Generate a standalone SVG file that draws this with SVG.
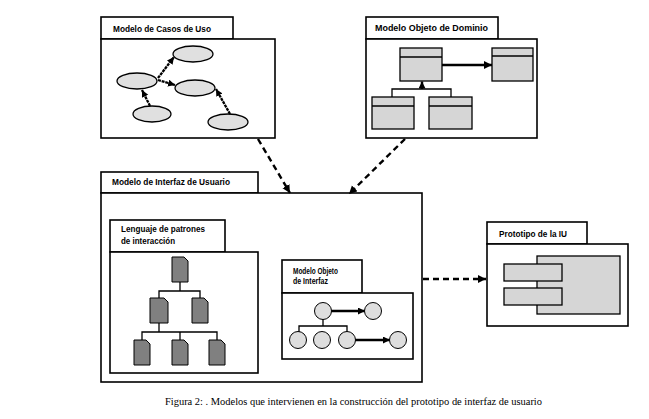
<svg xmlns="http://www.w3.org/2000/svg" width="649" height="419" viewBox="0 0 649 419">
<style>
.frame{fill:#fff;stroke:#000;stroke-width:1.6}
.lbl{font-family:"Liberation Sans",Arial,sans-serif;font-weight:bold;font-size:8.6px;fill:#000}
.ell{fill:#e0e0e0;stroke:#000;stroke-width:1.3}
.cls{fill:#d6d6d6;stroke:#000;stroke-width:1.3}
.doc{fill:#808080;stroke:#000;stroke-width:1}
.circ{fill:#dedede;stroke:#000;stroke-width:1}
.ln{fill:none;stroke:#000;stroke-width:1.3}
.thick{fill:none;stroke:#000;stroke-width:2.4}
.dot{fill:none;stroke:#000;stroke-width:2.3;stroke-dasharray:3 0.8}
.dash{fill:none;stroke:#000;stroke-width:2.4;stroke-dasharray:6 4}
.cap{font-family:"Liberation Serif","Times New Roman",serif;font-size:9.3px;fill:#000}
</style>
<defs>
<marker id="ah" markerUnits="userSpaceOnUse" markerWidth="10" markerHeight="10" refX="8" refY="4" orient="auto"><path d="M0,0 L8,4 L0,8 Z" fill="#000"/></marker>
<marker id="ahs" markerUnits="userSpaceOnUse" markerWidth="10" markerHeight="10" refX="7" refY="3.5" orient="auto"><path d="M0,0 L7,3.5 L0,7 Z" fill="#000"/></marker>
</defs>
<rect width="649" height="419" fill="#fff"/>

<g id="casos-uso">
<rect class="frame" x="101" y="17" width="132" height="22"/>
<rect class="frame" x="101" y="39" width="174" height="99"/>
<text class="lbl" x="113" y="32" textLength="98" lengthAdjust="spacingAndGlyphs">Modelo de Casos de Uso</text>
<ellipse class="ell" cx="193" cy="54" rx="20" ry="8"/>
<ellipse class="ell" cx="137" cy="81" rx="20" ry="8"/>
<ellipse class="ell" cx="195" cy="88" rx="20" ry="8"/>
<ellipse class="ell" cx="152" cy="114" rx="19" ry="8"/>
<ellipse class="ell" cx="228" cy="122" rx="20" ry="8"/>
<path class="dot" d="M158,78 L174,57" marker-end="url(#ahs)"/>
<path class="dot" d="M158,80 L175,85" marker-end="url(#ahs)"/>
<path class="dot" d="M150,106 L142,90" marker-end="url(#ahs)"/>
<path class="dot" d="M230,114 L216,89" marker-end="url(#ahs)"/>
</g>

<g id="objeto-dominio">
<rect class="frame" x="366" y="17" width="132" height="22"/>
<rect class="frame" x="366" y="39" width="171" height="99"/>
<text class="lbl" x="375" y="31" textLength="113" lengthAdjust="spacingAndGlyphs">Modelo Objeto de Dominio</text>
<rect class="cls" x="400" y="48" width="42" height="33"/><line class="ln" x1="400" y1="57" x2="442" y2="57"/>
<rect class="cls" x="492" y="48" width="41" height="33"/><line class="ln" x1="492" y1="56" x2="533" y2="56"/>
<rect class="cls" x="372" y="97" width="42" height="32"/><line class="ln" x1="372" y1="106" x2="414" y2="106"/>
<rect class="cls" x="429" y="97" width="43" height="32"/><line class="ln" x1="429" y1="106" x2="472" y2="106"/>
<path class="thick" d="M442,65 L492,65" marker-end="url(#ah)"/>
<path class="ln" d="M392,97 V89 H451 V97"/>
<path class="thick" d="M422,89 L422,81.5" marker-end="url(#ahs)"/>
</g>

<g id="interfaz-usuario">
<rect class="frame" x="101" y="172" width="157" height="21"/>
<rect class="frame" x="101" y="193" width="321" height="189"/>
<text class="lbl" x="112" y="185" textLength="118" lengthAdjust="spacingAndGlyphs">Modelo de Interfaz de Usuario</text>
</g>

<g id="lenguaje-patrones">
<rect class="frame" x="110" y="220" width="115" height="32"/>
<rect class="frame" x="110" y="252" width="148" height="121"/>
<text class="lbl" x="121" y="232" textLength="84" lengthAdjust="spacingAndGlyphs">Lenguaje de patrones</text>
<text class="lbl" x="121" y="244" textLength="54" lengthAdjust="spacingAndGlyphs">de interacción</text>
<path class="ln" d="M180,282 V291 M159,298 V291 H200 V298"/>
<path class="ln" d="M159,323 V332 M142,340 V332 H217 V340 M180,332 V340"/>
<polygon class="doc" points="172,257 184,257 188,261 188,282 172,282"/>
<polygon class="doc" points="150,298 164,298 168,302 168,323 150,323"/>
<polygon class="doc" points="192,298 204,298 208,302 208,323 192,323"/>
<polygon class="doc" points="134,340 146,340 150,344 150,365 134,365"/>
<polygon class="doc" points="172,340 184,340 188,344 188,365 172,365"/>
<polygon class="doc" points="209,340 221,340 225,344 225,365 209,365"/>
</g>

<g id="objeto-interfaz">
<rect class="frame" x="282" y="260" width="80" height="33"/>
<rect class="frame" x="282" y="293" width="131" height="66"/>
<text class="lbl" x="293" y="274" textLength="45" lengthAdjust="spacingAndGlyphs">Modelo Objeto</text>
<text class="lbl" x="293" y="284" textLength="35" lengthAdjust="spacingAndGlyphs">de Interfaz</text>
<path class="ln" d="M323,319 V326 M299,332 V326 H347 V332"/>
<path class="thick" d="M331,311 L365,311" marker-end="url(#ahs)"/>
<path class="thick" d="M355,340 L390,340" marker-end="url(#ahs)"/>
<circle class="circ" cx="323" cy="311" r="8.5"/>
<circle class="circ" cx="373" cy="311" r="8.5"/>
<circle class="circ" cx="298" cy="340" r="8.5"/>
<circle class="circ" cx="322" cy="340" r="8.5"/>
<circle class="circ" cx="347" cy="340" r="8.5"/>
<circle class="circ" cx="398" cy="340" r="8.5"/>
</g>

<g id="prototipo-iu">
<rect class="frame" x="487" y="222" width="100" height="22"/>
<rect class="frame" x="487" y="244" width="141" height="82"/>
<text class="lbl" x="499" y="237" textLength="68" lengthAdjust="spacingAndGlyphs">Prototipo de la IU</text>
<rect class="cls" x="537" y="256" width="83" height="58"/>
<rect class="cls" x="504" y="264" width="58" height="17"/>
<rect class="cls" x="504" y="288" width="58" height="17"/>
</g>

<g id="connectors">
<path class="dash" d="M258,139 L290,193" marker-end="url(#ah)"/>
<path class="dash" d="M405,139 L349,194" marker-end="url(#ah)"/>
<path class="dash" d="M423,279 L486,279" marker-end="url(#ah)"/>
</g>

<text class="cap" x="165" y="405" textLength="377" lengthAdjust="spacingAndGlyphs">Figura 2: . Modelos que intervienen en la construcción del prototipo de interfaz de usuario</text>
</svg>
